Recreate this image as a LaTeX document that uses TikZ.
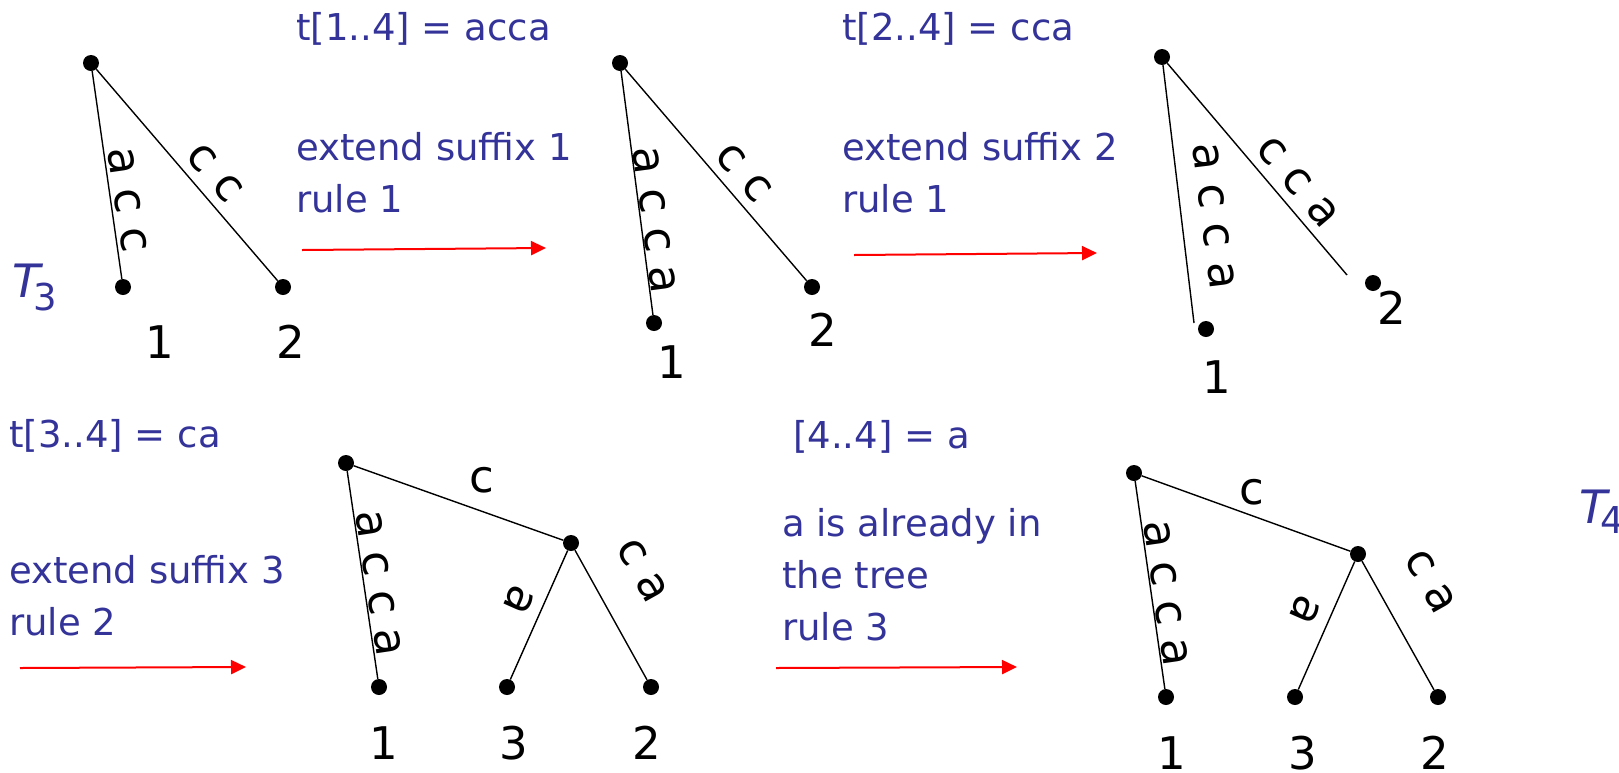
\documentclass[tikz,border=0pt]{standalone}
\usepackage{fontspec}
\setmainfont{DejaVu Sans}
\usepackage{tikz}
\usetikzlibrary{arrows.meta}
\definecolor{azul}{RGB}{51,51,153}
\definecolor{rojo}{RGB}{255,0,0}

\begin{document}
\begin{tikzpicture}[x=1pt, y=-1pt,
  punto/.style={circle, fill=black, inner sep=0pt, minimum size=16pt},
  arista/.style={black, line width=1.4pt},
  letra/.style={font=\fontsize{45}{54}\selectfont},
  sobre/.style={letra, sloped, allow upside down, anchor=south, inner sep=#1},
  bajo/.style={letra, sloped, allow upside down, anchor=north, inner sep=#1},
  num/.style={letra, inner sep=0pt},
  paso/.style={font=\fontsize{37}{52}\selectfont, text=azul, align=left,
    anchor=base west, inner sep=0pt},
  nombre/.style={text=azul, anchor=base west, inner sep=0pt},
  flecha/.style={rojo, line width=2pt, -{Triangle[length=15pt, width=14pt]}},
]
\useasboundingbox (0,0) rectangle (1619,772);

% arbol T3
\node[punto] (r1) at (91,63) {};
\node[punto] (h11) at (123,287) {};
\node[punto] (h12) at (283,287) {};
\draw[arista] (r1) -- node[sobre=3pt, pos=.63] {a c c} (h11);
\draw[arista] (r1) -- node[sobre=9pt, pos=.56] {c c} (h12);
\node[num] (n11) at (160,342) {1};
\node[num] (n12) at (291,342) {2};
\node[nombre] (t3) at (12,297)
  {\fontsize{46}{46}\selectfont\itshape T\kern-7pt\raisebox{-13pt}{\upshape\fontsize{37}{37}\selectfont 3}};

% paso 1 (base = ultima linea)
\node[paso] (p1) at (296,40) {t[1..4] = acca};
\node[paso] (q1) at (296,212) {extend suffix 1\\rule 1};
\coordinate (a1i) at (302,250);
\coordinate (a1f) at (546,248);
\draw[flecha] (a1i) -- (a1f);

% arbol 2
\node[punto] (r2) at (620,63) {};
\node[punto] (h21) at (654,323) {};
\node[punto] (h22) at (812,287) {};
\draw[arista] (r2) -- node[sobre=0pt, pos=.62] {a c c a} (h21);
\draw[arista] (r2) -- node[sobre=9pt, pos=.56] {c c} (h22);
\node[num] (n21) at (672,362) {1};
\node[num] (n22) at (823,330) {2};

% paso 2
\node[paso] (p2) at (842,40) {t[2..4] = cca};
\node[paso] (q2) at (842,212) {extend suffix 2\\rule 1};
\coordinate (a2i) at (854,255);
\coordinate (a2f) at (1097,253);
\draw[flecha] (a2i) -- (a2f);

% arbol 3
\node[punto] (r3) at (1162,57) {};
\node[punto] (h31) at (1206,329) {};
\node[punto] (h32) at (1373,283) {};
\coordinate (e31) at (1194,323);
\coordinate (e32) at (1347,275);
\draw[arista] (r3) -- node[sobre=19pt, pos=.6] {a c c a} (e31);
\draw[arista] (r3) -- node[sobre=9pt, pos=.63] {c c a} (e32);
\node[num] (n31) at (1217,377) {1};
\node[num] (n32) at (1392,308) {2};

% paso 3
\node[paso] (p3) at (9,447) {t[3..4] = ca};
\node[paso] (q3) at (9,635) {extend suffix 3\\rule 2};
\coordinate (a3i) at (20,668);
\coordinate (a3f) at (246,667);
\draw[flecha] (a3i) -- (a3f);

% arbol 4
\node[punto] (r4) at (346,463) {};
\node[punto] (b4) at (571,543) {};
\node[punto] (h41) at (379,687) {};
\node[punto] (h43) at (507,687) {};
\node[punto] (h42) at (651,687) {};
\draw[arista] (r4) -- node[sobre=1pt, pos=.55] {a c c a} (h41);
\draw[arista] (r4) -- node[letra, pos=.61, anchor=south, inner sep=17pt] {c} (b4);
\draw[arista] (b4) -- node[bajo=11pt, pos=.46] {a} (h43);
\draw[arista] (b4) -- node[sobre=36pt, pos=.34] {c a} (h42);
\node[num] (n41) at (384,743) {1};
\node[num] (n43) at (514,743) {3};
\node[num] (n42) at (647,743) {2};

% paso 4
\node[paso] (p4) at (793,448) {[4..4] = a};
\node[paso] (q4) at (782,640) {a is already in\\the tree\\rule 3};
\coordinate (a4i) at (776,668);
\coordinate (a4f) at (1017,667);
\draw[flecha] (a4i) -- (a4f);

% arbol T4
\node[punto] (r5) at (1134,473) {};
\node[punto] (b5) at (1358,554) {};
\node[punto] (h51) at (1166,697) {};
\node[punto] (h53) at (1295,697) {};
\node[punto] (h52) at (1438,697) {};
\draw[arista] (r5) -- node[sobre=1pt, pos=.55] {a c c a} (h51);
\draw[arista] (r5) -- node[letra, pos=.53, anchor=south, inner sep=10pt] {c} (b5);
\draw[arista] (b5) -- node[bajo=12pt, pos=.46] {a} (h53);
\draw[arista] (b5) -- node[sobre=36pt, pos=.35] {c a} (h52);
\node[num] (n51) at (1172,753) {1};
\node[num] (n53) at (1303,753) {3};
\node[num] (n52) at (1435,753) {2};
\node[nombre] (t4) at (1579,523)
  {\fontsize{46}{46}\selectfont\itshape T\kern-7pt\raisebox{-10pt}{\upshape\fontsize{37}{37}\selectfont 4}};
\end{tikzpicture}
\end{document}
